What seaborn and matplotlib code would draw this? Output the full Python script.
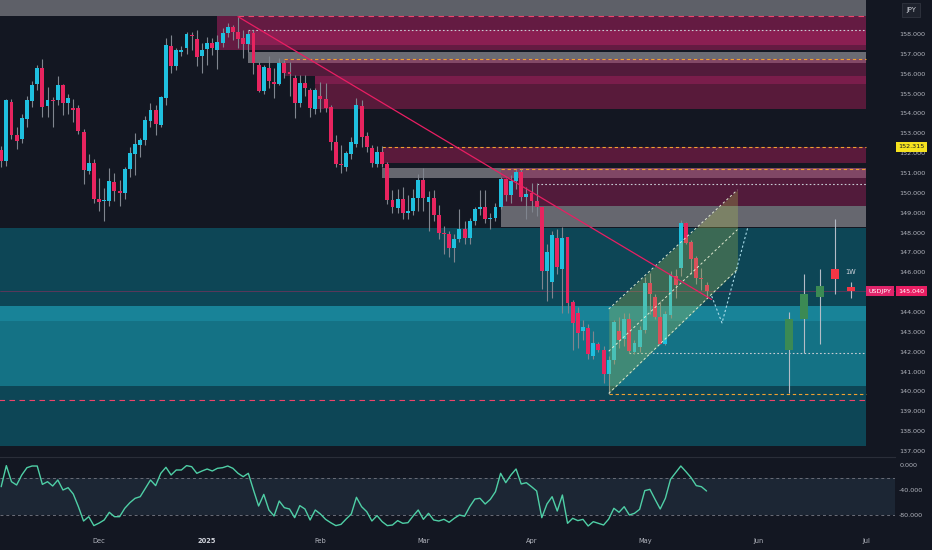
import numpy as np
import pandas as pd
import matplotlib
matplotlib.use("Agg")
import matplotlib.pyplot as plt
import matplotlib.transforms as mtransforms
import seaborn as sns

# ---- USDJPY daily candles, 5 Nov 2024 .. 19 May 2025 ----
opens = [152.15, 151.62, 154.58, 152.90, 152.70, 153.70, 154.60, 155.47, 156.30, 154.36,
         154.67, 154.67, 155.42, 154.50, 154.26, 154.26, 153.07, 151.10, 151.50, 149.67,
         149.58, 149.58, 150.57, 150.10, 149.97, 151.18, 151.94, 152.43, 152.65, 153.60,
         154.16, 153.40, 154.77, 157.39, 156.40, 157.10, 157.28, 157.95, 157.73, 156.89,
         157.23, 157.53, 157.20, 157.56, 158.03, 158.34, 158.12, 157.78, 157.48, 158.07,
         156.43, 155.14, 156.27, 155.60, 155.47, 156.52, 156.10, 155.76, 154.50, 155.54,
         155.17, 154.20, 154.87, 154.75, 154.33, 152.56, 151.43, 151.30, 151.97, 152.48,
         154.36, 152.85, 152.28, 151.47, 152.06, 151.43, 149.62, 149.25, 149.70, 148.97,
         149.10, 149.75, 150.66, 149.55, 149.75, 148.86, 148.00, 147.95, 147.24, 147.70,
         148.20, 147.75, 148.60, 149.20, 149.30, 148.70, 148.75, 149.30, 150.70, 149.90,
         150.60, 151.05, 149.80, 149.97, 149.58, 149.28, 146.08, 145.49, 147.73, 146.17,
         147.76, 144.48, 143.97, 143.05, 143.22, 141.79, 142.40, 142.10, 140.88, 141.57,
         143.05, 142.62, 143.63, 142.00, 142.25, 143.09, 145.44, 144.76, 143.75, 142.41,
         143.84, 145.83, 146.20, 148.47, 147.54, 146.70, 145.69, 145.36]
highs = [152.35, 154.75, 154.75, 153.30, 153.95, 154.90, 155.65, 156.45, 156.75, 155.35,
         154.85, 155.88, 155.50, 155.00, 154.72, 154.40, 153.20, 151.94, 151.70, 150.73,
         150.22, 151.23, 151.00, 150.67, 151.30, 152.30, 153.00, 152.75, 153.85, 154.50,
         154.40, 154.90, 157.80, 157.95, 157.30, 157.40, 158.10, 158.10, 158.18, 157.55,
         157.83, 157.78, 157.95, 158.29, 158.54, 158.45, 158.87, 158.20, 158.20, 158.20,
         156.60, 156.45, 156.90, 156.30, 156.77, 156.69, 156.60, 155.93, 155.93, 155.93,
         155.30, 155.30, 155.60, 155.54, 154.41, 152.90, 152.40, 152.10, 152.81, 154.80,
         154.66, 153.07, 152.39, 152.35, 152.35, 151.55, 150.12, 150.20, 150.29, 149.87,
         150.21, 150.96, 151.27, 150.10, 150.12, 149.40, 148.35, 148.10, 147.95, 149.20,
         148.60, 148.75, 149.30, 150.15, 150.12, 149.00, 149.50, 150.80, 150.75, 150.90,
         151.20, 151.20, 150.30, 150.49, 150.49, 149.30, 147.44, 148.10, 148.19, 148.27,
         147.80, 144.60, 144.23, 143.60, 143.39, 143.05, 142.50, 142.30, 141.80, 143.60,
         143.75, 143.97, 143.97, 142.60, 143.30, 145.74, 145.94, 144.90, 144.57, 144.05,
         146.08, 146.17, 148.64, 148.52, 147.65, 146.84, 146.20, 145.53]
lows = [151.28, 151.35, 152.70, 152.20, 152.50, 153.30, 154.30, 155.20, 153.82, 153.82,
        153.30, 154.40, 153.90, 153.96, 153.55, 152.98, 150.47, 150.93, 149.48, 149.10,
        148.60, 149.36, 149.60, 149.36, 149.70, 150.80, 150.90, 151.80, 152.40, 153.30,
        152.90, 153.30, 154.40, 156.03, 156.20, 156.90, 157.00, 157.20, 156.40, 156.05,
        156.43, 156.94, 156.23, 157.36, 157.86, 157.70, 157.28, 156.80, 157.10, 156.00,
        155.09, 154.97, 155.30, 154.80, 155.42, 155.76, 154.90, 153.76, 154.33, 154.90,
        153.80, 153.96, 154.08, 154.08, 152.14, 151.30, 150.98, 151.10, 151.72, 152.30,
        152.30, 152.06, 151.30, 151.30, 151.30, 149.45, 148.97, 149.00, 148.69, 148.69,
        148.86, 149.10, 149.10, 148.10, 148.60, 147.70, 146.94, 146.75, 146.50, 147.50,
        147.40, 147.40, 148.40, 148.90, 148.50, 148.20, 148.60, 149.20, 149.60, 149.50,
        150.20, 149.60, 148.70, 149.03, 148.85, 145.16, 144.57, 144.73, 145.91, 143.97,
        143.97, 142.07, 142.21, 142.60, 141.62, 141.62, 142.00, 140.44, 139.89, 141.40,
        142.20, 142.30, 141.95, 141.90, 142.00, 142.95, 143.90, 143.64, 142.38, 142.35,
        143.72, 144.73, 145.80, 147.43, 145.91, 145.41, 145.10, 144.69]
closes = [151.62, 154.65, 152.90, 152.62, 153.75, 154.65, 155.45, 156.30, 154.33, 154.67,
          154.60, 155.42, 154.53, 154.76, 154.16, 153.12, 151.13, 151.50, 149.70, 149.53,
          149.62, 150.59, 150.08, 150.00, 151.18, 151.99, 152.44, 152.65, 153.66, 154.16,
          153.45, 154.83, 157.44, 156.40, 157.19, 157.20, 158.00, 157.90, 156.85, 157.19,
          157.56, 157.27, 157.60, 158.07, 158.34, 158.12, 157.73, 157.48, 158.00, 156.52,
          155.14, 156.32, 155.64, 155.50, 156.55, 156.02, 156.00, 154.50, 155.54, 155.26,
          154.28, 155.20, 154.75, 154.25, 152.56, 151.43, 151.38, 152.00, 152.56, 154.41,
          152.81, 152.31, 151.50, 152.06, 151.47, 149.62, 149.28, 149.70, 148.97, 149.10,
          149.75, 150.63, 149.75, 149.80, 148.86, 147.97, 147.95, 147.24, 147.70, 148.20,
          147.75, 148.60, 149.20, 149.30, 148.70, 148.75, 149.30, 150.70, 149.90, 150.60,
          151.05, 149.80, 149.95, 149.58, 149.28, 146.08, 147.00, 147.90, 146.28, 147.73,
          144.43, 143.47, 142.96, 143.27, 141.87, 142.46, 142.10, 140.88, 141.57, 143.48,
          142.58, 143.66, 142.06, 142.42, 143.09, 145.44, 144.93, 143.75, 142.41, 143.92,
          145.86, 145.36, 148.47, 147.46, 146.65, 145.69, 145.65, 145.04]

# Williams %R panel
wr = [-34.7, -1.0, -26.7, -32.0, -16.0, -4.3, -1.6, -1.6, -31.0, -26.7,
      -33.6, -24.0, -40.0, -36.3, -46.4, -66.7, -89.6, -82.7, -97.0, -93.0,
      -88.0, -75.7, -82.7, -82.7, -69.3, -60.3, -53.3, -50.7, -37.3, -24.0,
      -33.0, -13.3, -3.7, -16.0, -8.0, -8.0, -1.0, -2.7, -13.3, -9.6,
      -6.4, -9.6, -5.3, -4.3, -1.6, -5.3, -13.3, -18.7, -13.3, -40.0,
      -65.6, -47.0, -72.0, -81.6, -57.6, -68.3, -70.4, -84.3, -65.0, -70.4,
      -88.0, -72.0, -78.4, -86.9, -92.3, -97.0, -95.0, -86.4, -78.4, -51.7,
      -66.7, -74.7, -89.6, -81.0, -90.7, -97.0, -96.0, -89.0, -93.3, -92.3,
      -81.6, -72.0, -86.9, -77.3, -88.0, -89.6, -86.9, -91.7, -85.3, -80.0,
      -82.0,
      -66.7, -54.4, -53.3, -62.4, -55.0, -42.7, -13.3, -28.3, -16.0, -6.4,
      -30.4, -28.3, -34.7, -41.6, -84.3, -62.4, -50.7, -73.6, -48.0, -93.3,
      -85.3, -89.0, -87.0, -97.6, -90.7, -93.3, -96.0, -86.4, -69.3, -75.7,
      -66.7, -80.0, -77.3, -70.9, -41.0, -39.0, -55.0, -70.4, -53.3, -22.9,
      -12.3, -1.6, -10.7, -20.3, -33.0, -34.7, -41.6]

# weekly candles drawn in the empty area on the right ("1W")
week_dates = ['2025-06-10', '2025-06-13', '2025-06-18', '2025-06-23', '2025-06-26']
week_open = [142.07, 143.64, 144.77, 146.17, 145.27]
week_high = [143.98, 145.91, 146.17, 148.69, 145.49]
week_low = [139.90, 141.95, 142.38, 144.90, 144.73]
week_close = [143.64, 144.90, 145.32, 145.66, 145.07]

# supply / demand zones
zone_start = [None, '2025-01-06', '2025-01-14', '2025-01-14', '2025-01-23', '2025-01-31',
              '2025-01-31', '2025-02-19', '2025-02-19', '2025-03-24', '2025-03-24',
              None, None, None]
zone_low = [158.91, 157.19, 157.42, 156.54, 155.88, 154.21, 155.47, 151.48, 150.76,
            149.36, 148.27, 137.24, 140.27, 143.56]
zone_high = [160.50, 158.91, 158.20, 157.09, 156.75, 155.88, 155.88, 152.31, 151.27,
             151.27, 149.36, 148.22, 144.31, 144.31]
zones_end = '2025-07-01'

# horizontal levels
level_start = ['2025-01-10', '2025-01-14', '2025-01-23', '2025-02-19', '2025-03-24',
               '2025-04-02', '2025-04-22', '2025-04-28', None]
level_price = [158.91, 158.20, 156.75, 152.315, 151.22, 150.47, 139.87, 141.94, 139.57]

trend_dates = ['2025-01-10', '2025-05-20']
trend_prices = [158.87, 144.63]

channel_dates = ['2025-04-22', '2025-05-27']
channel_low = [139.90, 146.15]
channel_high = [144.15, 150.15]

path_dates = ['2025-05-20', '2025-05-22', '2025-05-29']
path_prices = [144.80, 143.45, 148.25]

month_labels = ['Dec', '2025', 'Feb', 'Mar', 'Apr', 'May', 'Jun', 'Jul']
price_ticks = list(range(137, 159))
wr_ticks = [0, -40, -80]
last_price = 145.04
marked_level = 152.315

# ---- colours ----
BG = '#131722'
TXT = '#b2b5be'
UP, DOWN, WICK = '#1fc0df', '#e8245f', '#80858f'
PINK = '#a0205a73'
zone_colors = ['#5e6068', '#641b42', '#8a1f52', '#6a6b73', PINK, '#581a3a', '#7a1d4b',
               '#5a1a3b', '#66676f', PINK, '#66676f', '#0d4656', '#147285', '#188398']
RED, ORANGE, WHITE = '#f0436a', '#f0a030', '#c8ccd4'
level_colors = [RED, WHITE, ORANGE, ORANGE, ORANGE, WHITE, ORANGE, WHITE, RED]
level_styles = [(0, (5, 4)), (0, (1.5, 2)), (0, (3, 2.5)), (0, (3, 2.5)), (0, (3, 2.5)),
                (0, (1.5, 2)), (0, (3, 2.5)), (0, (1.5, 2)), (0, (5, 4))]

sns.set_theme(style='dark', rc={'axes.facecolor': BG, 'figure.facecolor': BG,
                                'axes.grid': False})
plt.rcParams['font.family'] = ['DejaVu Sans']

# trading calendar (FX feed skips 25 Dec and 1 Jan)
days = pd.bdate_range('2024-11-05', '2025-07-31')
days = days[~days.isin(pd.to_datetime(['2024-12-25', '2025-01-01']))]


def ix(d):
    return days.get_loc(pd.Timestamp(d))


x_end = ix(zones_end)
month_pos = pd.Series(np.arange(len(days)), index=days).groupby(days.to_period('M')).first()
month_pos = month_pos.iloc[1:len(month_labels) + 1].values

fig = plt.figure(figsize=(9.32, 5.5), dpi=100)
ax = fig.add_axes([0, 94 / 550, 895 / 932, 456 / 550])
ax_wr = fig.add_axes([0, 22 / 550, 895 / 932, 71 / 550])
XLIM = (-0.23, 173.6)

# zones
for k, (s, lo, hi, c) in enumerate(zip(zone_start, zone_low, zone_high, zone_colors)):
    x0 = -1 if s is None else ix(s)
    ax.fill_between([x0, x_end], lo, hi, color=c, lw=0, zorder=1 + k * 0.01)

for s, p, c, ls in zip(level_start, level_price, level_colors, level_styles):
    x0 = -1 if s is None else ix(s)
    ax.hlines(p, x0, x_end, colors=c, linestyles=[ls], lw=0.8, zorder=2)

ax.axhline(last_price, color='#e91e63', alpha=0.4, lw=0.6, zorder=2)

# daily candles
df = pd.DataFrame({'open': opens, 'high': highs, 'low': lows, 'close': closes})
df['x'] = np.arange(len(df))
rising = df['close'] >= df['open']
ax.vlines(df['x'], df['low'], df['high'], color=WICK, lw=0.8, zorder=3)
ax.bar(df['x'], (df['close'] - df['open']).abs().clip(lower=0.05),
       bottom=df[['open', 'close']].min(axis=1), width=0.76,
       color=np.where(rising, UP, DOWN), lw=0, zorder=3.5)

# weekly candles
wk = pd.DataFrame({'x': [ix(d) for d in week_dates], 'open': week_open,
                   'high': week_high, 'low': week_low, 'close': week_close})
wk_up = wk['close'] >= wk['open']
ax.vlines(wk['x'], wk['low'], wk['high'], color='#b4bcc6', lw=0.8, zorder=3)
ax.bar(wk['x'], (wk['close'] - wk['open']).abs(), bottom=wk[['open', 'close']].min(axis=1),
       width=1.55, color=np.where(wk_up, '#3b8a54', '#f23645'), lw=0, zorder=3.5)
ax.text(wk['x'].iloc[-1], 146.0, '1W', ha='center', va='center', fontsize=4.8,
        color='#d1d4dc', zorder=6)

# rising channel
cx = [ix(d) for d in channel_dates]
ax.fill_between(cx, channel_low, channel_high, color='#b3c650', alpha=0.28, lw=0, zorder=4.5)
channel_mid = [(a + b) / 2 for a, b in zip(channel_low, channel_high)]
for ys in (channel_low, channel_mid, channel_high):
    ax.plot(cx, ys, color='#dfe8d0', lw=0.7, ls=(0, (2.5, 2.5)), zorder=5)

# trend line and projected path
ax.plot([ix(d) for d in trend_dates], trend_prices, color='#e91e63', lw=0.9, zorder=6)
ax.plot([ix(d) for d in path_dates], path_prices, color='#a8dbe8', lw=0.8,
        ls=(0, (2, 2)), zorder=6)

ax.set_xlim(*XLIM)
ax.set_ylim(136.75, 159.71)
ax.set_xticks([])
ax.yaxis.tick_right()
ax.set_yticks(price_ticks)
ax.set_yticklabels([f'{v:.3f}' for v in price_ticks])
ax.tick_params(axis='y', length=0, pad=3, labelsize=4.6, colors=TXT)
for sp in ax.spines.values():
    sp.set_visible(False)

# price labels on the right scale
trans = mtransforms.blended_transform_factory(ax.transAxes, ax.transData)
ax.text(1.004, marked_level, f'{marked_level:.3f}', transform=trans, ha='left', va='center',
        fontsize=4.6, color='#131722', clip_on=False, zorder=10,
        bbox=dict(boxstyle='square,pad=0.4', fc='#f5e21f', ec='none'))
ax.text(0.9832, last_price, 'USDJPY', transform=trans, ha='center', va='center',
        fontsize=4.6, color='white', clip_on=False, zorder=10,
        bbox=dict(boxstyle='square,pad=0.4', fc='#e0246a', ec='none'))
ax.text(1.004, last_price, f'{last_price:.3f}', transform=trans, ha='left', va='center',
        fontsize=4.6, color='white', clip_on=False, zorder=10,
        bbox=dict(boxstyle='square,pad=0.4', fc='#e91e63', ec='none'))
fig.text(911 / 932, 1 - 10 / 550, 'JPY', ha='center', va='center', fontsize=4.8,
         color='#d1d4dc', bbox=dict(boxstyle='square,pad=0.55', fc='#1e222d', ec='#363a45', lw=0.5))

# Williams %R panel
ax_wr.axhspan(-80, -20, color='#1c2634', lw=0, zorder=0)
for lvl in (-20, -80):
    ax_wr.axhline(lvl, color='#6a6d78', lw=0.7, ls=(0, (3, 3)), zorder=1)
sns.lineplot(x=np.arange(len(wr)), y=wr, ax=ax_wr, color='#4fcfa6', lw=1, zorder=3)
ax_wr.set_xlim(*XLIM)
ax_wr.set_ylim(-100.8, 12.8)
ax_wr.set_xlabel('')
ax_wr.set_ylabel('')
ax_wr.yaxis.tick_right()
ax_wr.set_yticks(wr_ticks)
ax_wr.set_yticklabels([f'{v:.3f}' for v in wr_ticks])
ax_wr.set_xticks(month_pos)
ax_wr.set_xticklabels(month_labels)
ax_wr.tick_params(axis='y', length=0, pad=3, labelsize=4.6, colors=TXT)
ax_wr.tick_params(axis='x', length=0, pad=7, labelsize=4.8, colors=TXT)
ax_wr.get_xticklabels()[1].set_fontweight('bold')
ax_wr.get_xticklabels()[1].set_color('#d1d4dc')
for name, sp in ax_wr.spines.items():
    sp.set_visible(name == 'top')
ax_wr.spines['top'].set_color('#2a2e39')
ax_wr.spines['top'].set_linewidth(0.8)

fig.savefig('out.png', dpi=100, facecolor=BG)
